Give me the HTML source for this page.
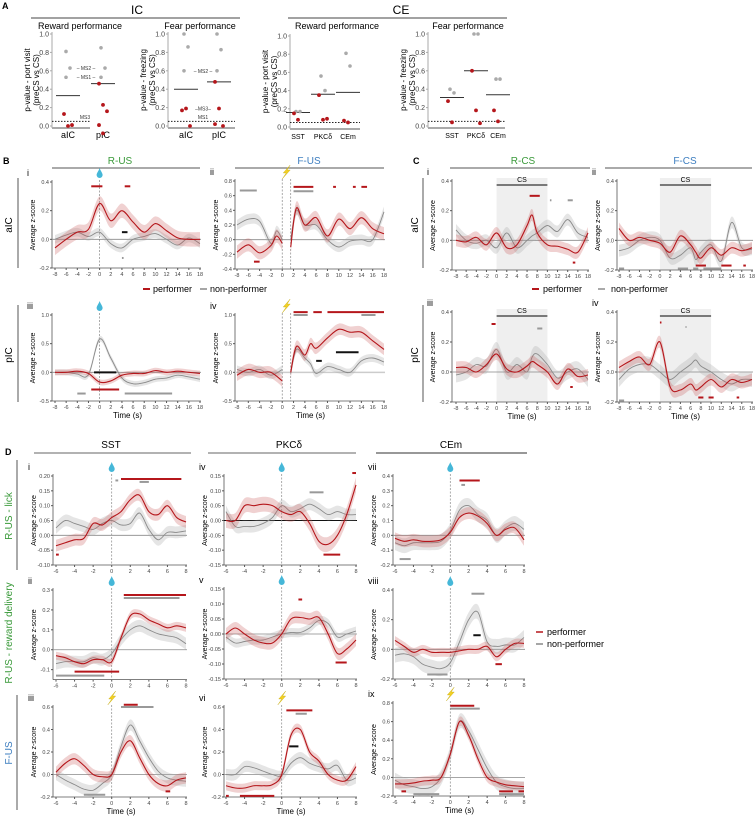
<!DOCTYPE html>
<html><head><meta charset="utf-8"><style>
body{margin:0;background:#fff;}
svg{display:block;font-family:"Liberation Sans",sans-serif;}
</style></head><body>
<svg id="fig" width="756" height="819" viewBox="0 0 756 819" xmlns="http://www.w3.org/2000/svg">
<g id="static" font-family="Liberation Sans, sans-serif">
<text x="2" y="9" font-size="9" font-weight="bold">A</text>
<text x="137" y="14" font-size="12" text-anchor="middle">IC</text>
<line x1="31" y1="18" x2="240" y2="18" stroke="#444"/>
<text x="401" y="14" font-size="12" text-anchor="middle">CE</text>
<line x1="288" y1="18" x2="507" y2="18" stroke="#444"/>
<text x="80" y="29" font-size="9" text-anchor="middle">Reward  performance</text>
<text x="200" y="29" font-size="9" text-anchor="middle">Fear performance</text>
<text x="337" y="29" font-size="9" text-anchor="middle">Reward performance</text>
<text x="468" y="29" font-size="9" text-anchor="middle">Fear performance</text>
<text x="3" y="164" font-size="9" font-weight="bold">B</text>
<text x="120" y="164" font-size="10" fill="#3a9a3a" text-anchor="middle">R-US</text>
<line x1="52" y1="168" x2="200" y2="168" stroke="#555"/>
<text x="309" y="164" font-size="10" fill="#3f7fc0" text-anchor="middle">F-US</text>
<line x1="235" y1="168" x2="384" y2="168" stroke="#555"/>
<text x="413" y="164" font-size="9" font-weight="bold">C</text>
<text x="523" y="164" font-size="10" fill="#3a9a3a" text-anchor="middle">R-CS</text>
<line x1="450" y1="168" x2="590" y2="168" stroke="#555"/>
<text x="685" y="164" font-size="10" fill="#3f7fc0" text-anchor="middle">F-CS</text>
<line x1="605" y1="168" x2="752" y2="168" stroke="#555"/>
<text x="12" y="225" font-size="10" text-anchor="middle" transform="rotate(-90 12 225)">aIC</text>
<text x="12" y="355" font-size="10" text-anchor="middle" transform="rotate(-90 12 355)">pIC</text>
<line x1="18" y1="178" x2="18" y2="268" stroke="#555"/>
<line x1="18" y1="305" x2="18" y2="402" stroke="#555"/>
<text x="418" y="225" font-size="10" text-anchor="middle" transform="rotate(-90 418 225)">aIC</text>
<text x="418" y="355" font-size="10" text-anchor="middle" transform="rotate(-90 418 355)">pIC</text>
<line x1="423" y1="178" x2="423" y2="268" stroke="#555"/>
<line x1="423" y1="305" x2="423" y2="402" stroke="#555"/>
<line x1="143" y1="289" x2="150" y2="289" stroke="#b5161b" stroke-width="2"/>
<text x="153" y="292" font-size="9">performer</text>
<line x1="200" y1="289" x2="207" y2="289" stroke="#888" stroke-width="1.5"/>
<text x="210" y="292" font-size="9">non-performer</text>
<line x1="532" y1="289" x2="539" y2="289" stroke="#b5161b" stroke-width="2"/>
<text x="543" y="292" font-size="9">performer</text>
<line x1="598" y1="289" x2="605" y2="289" stroke="#aaa" stroke-width="2"/>
<text x="611" y="292" font-size="9">non-performer</text>
<text x="5" y="455" font-size="9" font-weight="bold">D</text>
<text x="111" y="448" font-size="10" text-anchor="middle">SST</text>
<line x1="34" y1="453" x2="191" y2="453" stroke="#999" stroke-width="1.5"/>
<text x="289" y="448" font-size="10" text-anchor="middle">PKCδ</text>
<line x1="208" y1="453" x2="356" y2="453" stroke="#999" stroke-width="1.5"/>
<text x="451" y="448" font-size="10" text-anchor="middle">CEm</text>
<line x1="376" y1="453" x2="527" y2="453" stroke="#777" stroke-width="1.5"/>
<text x="12" y="516" font-size="10" fill="#3a9a3a" text-anchor="middle" transform="rotate(-90 12 516)">R-US - lick</text>
<text x="12" y="633" font-size="10" fill="#3a9a3a" text-anchor="middle" transform="rotate(-90 12 633)">R-US - reward delivery</text>
<text x="12" y="753" font-size="10" fill="#3f7fc0" text-anchor="middle" transform="rotate(-90 12 753)">F-US</text>
<line x1="17" y1="460" x2="17" y2="570" stroke="#555"/>
<line x1="17" y1="695" x2="17" y2="810" stroke="#555"/>
<line x1="536" y1="632" x2="543" y2="632" stroke="#b5161b" stroke-width="1.5"/>
<text x="547" y="635" font-size="9">performer</text>
<line x1="536" y1="644" x2="543" y2="644" stroke="#888" stroke-width="1.5"/>
<text x="547" y="647" font-size="9">non-performer</text>
</g>
<g id="plots"></g>
</svg>
<script>
// ---------- Panel A data ----------
const a1Cats=["aIC","pIC"];
const a1Gray=[[0.81,0.63,0.53],[0.85,0.63,0.53]];
const a1Red=[[0.13,0.0,0.01],[0.46,0.23,0.16,0.01,-0.08]];
const a1Mean=[0.33,0.46];
const a2Cats=["aIC","pIC"];
const a2Gray=[[1.0,0.86,0.6],[1.0,0.83,0.6]];
const a2Red=[[0.17,0.19,0.0],[0.48,0.19,0.0,0.02]];
const a2Mean=[0.40,0.48];
const a3Cats=["SST","PKCδ","CEm"];
const a3Gray=[[0.17,0.17],[0.56,0.40],[0.81,0.67]];
const a3Red=[[0.15,0.08],[0.35,0.08,0.09],[0.07,0.05]];
const a3Mean=[0.16,0.36,0.38];
const a4Cats=["SST","PKCδ","CEm"];
const a4Gray=[[0.40,0.36],[1.0,1.0],[0.51,0.51]];
const a4Red=[[0.27,0.04],[0.60,0.17,0.03],[0.17,0.05]];
const a4Mean=[0.31,0.60,0.34];
const aTicks=[0,0.2,0.4,0.6,0.8,1.0];

// ---------- Panel B/C data ----------
const bT=[-8,-6,-4,-2,0,2,4,6,8,10,12,14,16,18];
const biRed=[-0.06,0.0,0.05,0.07,0.25,0.13,0.2,0.12,0.05,0.11,0.06,0.01,0.0,0.0];
const biGray=[0.0,0.03,0.05,0.02,0.05,-0.03,-0.06,0.0,0.02,0.04,0.0,-0.04,0.01,-0.03];
const biiT=[-8,-6,-4,-2,-1,0,1,1.5,2.5,4,6,8,10,12,14,16,18];
const biiRed=[-0.17,-0.07,-0.18,-0.08,0.05,-0.05,null,-0.1,0.43,0.2,0.3,0.05,0.28,0.15,0.3,0.15,0.08];
const biiGray=[0.2,0.28,0.25,-0.05,0.12,0.0,null,0.0,0.4,0.2,0.2,0.0,-0.1,-0.02,0.0,0.0,0.38];
const biiiRed=[0.0,0.0,0.02,-0.02,-0.17,-0.15,-0.05,-0.02,-0.02,0.03,0.0,0.02,0.0,-0.02];
const biiiGray=[0.0,0.0,-0.03,-0.04,0.58,0.25,-0.1,-0.2,-0.18,-0.12,-0.1,-0.05,-0.08,-0.12];
const bivT=[-8,-6,-4,-2,0,1,1.5,2.5,4,5,6,8,10,12,14,16,18];
const bivRed=[-0.05,0.05,0.0,0.0,-0.15,null,0.0,0.45,0.3,0.5,0.42,0.6,0.75,0.7,0.7,0.55,0.4];
const bivGray=[0.05,0.0,0.05,-0.05,0.05,null,0.0,0.4,0.25,0.15,-0.02,0.1,0.05,0.0,0.2,0.25,0.18];
const cT=[-8,-6,-4,-2,0,2,4,6,7,8,10,12,14,16,18];
const ciRed=[0.0,-0.01,0.02,-0.03,0.05,-0.05,-0.03,0.1,0.17,0.05,-0.03,-0.04,-0.06,-0.08,0.05];
const ciGray=[0.07,0.0,-0.02,0.0,-0.05,0.05,-0.05,0.0,0.03,0.05,0.1,0.06,0.14,0.05,0.02];
const ciiRed=[0.08,0.0,0.02,0.0,-0.02,-0.08,0.03,-0.03,-0.08,-0.12,-0.05,-0.1,-0.05,-0.07,-0.05];
const ciiGray=[-0.07,-0.05,0.0,0.02,0.0,-0.12,-0.1,-0.05,-0.13,-0.08,-0.03,-0.14,0.12,-0.05,-0.06];
const ciiiRed=[0.03,0.03,0.0,0.05,0.12,0.02,0.0,0.04,0.07,0.05,0.0,-0.08,0.02,-0.03,-0.02];
const ciiiGray=[-0.02,0.0,0.05,0.04,0.15,0.0,0.05,0.0,0.1,0.12,0.05,-0.04,0.0,0.02,-0.05];
const civRed=[0.03,0.07,0.1,0.05,0.2,-0.1,-0.12,-0.08,-0.12,-0.1,-0.05,-0.1,-0.05,-0.07,-0.05];
const civGray=[-0.05,0.02,0.05,0.05,0.0,-0.05,0.0,0.05,0.08,0.04,0.0,-0.05,-0.08,-0.05,-0.05];

// ---------- Panel D data ----------
const dT=[-6,-5,-4,-3,-2,-1,0,1,2,3,4,5,6,7,8];
const diRed=[-0.035,-0.025,-0.015,-0.01,0.04,0.035,0.06,0.08,0.12,0.135,0.08,0.07,0.1,0.06,0.045];
const diGray=[0.025,0.05,0.04,0.03,0.02,0.04,0.05,0.035,0.04,0.075,0.02,-0.015,0.01,0.01,0.015];
const divRed=[0.0,0.0,0.05,0.05,0.055,0.05,0.03,0.02,0.03,-0.01,-0.07,-0.08,-0.05,0.02,0.12];
const divGray=[0.03,-0.02,-0.02,-0.02,-0.01,0.01,0.05,0.03,0.04,0.055,0.04,0.02,0.03,0.02,0.02];
const dviiRed=[-0.02,-0.04,-0.03,-0.04,-0.04,-0.03,0.02,0.12,0.15,0.13,0.08,0.0,0.04,0.05,-0.03];
const dviiGray=[-0.05,-0.07,-0.05,-0.05,-0.05,-0.04,0.03,0.17,0.2,0.14,0.1,0.0,0.05,0.08,0.04];
const diiRed=[-0.03,-0.04,-0.06,-0.07,-0.05,-0.05,-0.06,0.06,0.17,0.18,0.15,0.13,0.11,0.12,0.11];
const diiGray=[-0.07,-0.06,-0.06,-0.06,-0.04,-0.05,-0.02,0.05,0.1,0.12,0.1,0.08,0.07,0.06,0.03];
const dvRed=[0.0,0.02,0.0,-0.02,-0.03,-0.03,0.0,0.05,0.055,0.05,0.055,0.0,-0.065,-0.05,-0.02];
const dvGray=[-0.01,-0.03,-0.025,-0.02,-0.02,-0.01,0.0,0.005,0.005,0.02,0.045,0.035,-0.01,0.0,0.01];
const dviiiRed=[0.06,0.02,-0.02,0.0,-0.02,-0.02,-0.02,-0.01,0.0,0.0,0.02,-0.05,0.0,0.04,0.04];
const dviiiGray=[-0.04,-0.03,-0.05,-0.1,-0.12,-0.13,-0.09,0.05,0.2,0.25,0.05,0.02,0.03,0.03,0.08];
const diiiRed=[0.02,0.1,0.14,0.08,0.0,-0.02,0.0,0.2,0.3,0.15,0.0,-0.08,-0.1,-0.05,-0.03];
const diiiGray=[0.0,-0.05,-0.09,-0.13,-0.14,-0.08,0.0,0.25,0.44,0.3,0.15,0.03,-0.03,-0.05,-0.06];
const dviRed=[-0.1,-0.12,-0.12,-0.1,-0.1,-0.09,0.0,0.35,0.4,0.2,0.12,0.0,-0.05,-0.05,0.07];
const dviGray=[0.0,0.0,0.07,0.06,0.03,0.0,-0.01,0.1,0.15,0.1,0.07,0.05,0.08,-0.05,-0.03];
const dixRed=[-0.07,-0.07,-0.06,-0.04,-0.03,0.0,0.25,0.6,0.45,0.2,0.0,-0.05,-0.08,-0.09,-0.1];
const dixGray=[-0.03,-0.08,-0.1,-0.12,-0.1,0.0,0.25,0.6,0.5,0.3,0.1,-0.05,-0.1,-0.12,-0.12];

const bXTicks=[-8,-6,-4,-2,0,2,4,6,8,10,12,14,16,18];
const dXTicks=[-6,-4,-2,0,2,4,6,8];

const NS="http://www.w3.org/2000/svg";
const root=document.getElementById('plots');
function mk(tag,attrs,parent){const e=document.createElementNS(NS,tag);for(const k in attrs)e.setAttribute(k,attrs[k]);(parent||root).appendChild(e);return e;}
const RED="#b5161b",GRAY="#8a8a8a";

// ---------- Panel A ----------
function drawA(cfg,cats,gray,red,mean){
  const g=mk('g',{});
  
  
  const y=v=>cfg.y0+(1-v)*(cfg.y1-cfg.y0);
  const x=i=>cfg.cx[i];
  mk('line',{x1:cfg.ax,y1:cfg.y0-2,x2:cfg.ax,y2:cfg.y1+2,stroke:'#aaa'},g);
  mk('line',{x1:cfg.ax,y1:cfg.y1+2,x2:cfg.xe,y2:cfg.y1+2,stroke:'#aaa','stroke-width':2},g);
  mk('line',{x1:cfg.ax,y1:y(0.05),x2:cfg.xe,y2:y(0.05),stroke:'#222','stroke-dasharray':'1.5,1.5'},g);
  aTicks.forEach(t=>{mk('line',{x1:cfg.ax-2,y1:y(t),x2:cfg.ax,y2:y(t),stroke:'#aaa'},g);
    const tx=mk('text',{x:cfg.ax-3,y:y(t)+2.5,'font-size':7,'text-anchor':'end',fill:'#444'},g);tx.textContent=t.toFixed(1);});
  const yl=mk('text',{x:0,y:0,'font-size':8,'text-anchor':'middle',transform:`translate(${cfg.ax-22},${(cfg.y0+cfg.y1)/2}) rotate(-90)`},g);
  
  
  const ts1=mk('tspan',{x:0,dy:0},yl);ts1.textContent=cfg.ylab;
  const ts2=mk('tspan',{x:0,dy:9},yl);ts2.textContent='(preCS vs CS)';
  cats.forEach((c,i)=>{
    const lt=mk('text',{x:x(i),y:cfg.y1+12,'font-size':cfg.cfs,'text-anchor':'middle'},g);lt.textContent=c;
    
    
    const ml=mk('line',{x1:x(i)-12,y1:y(mean[i]),x2:x(i)+12,y2:y(mean[i]),stroke:'#333'},g);
    
    
    gray[i].forEach((v,j)=>{const d=mk('circle',{cx:x(i)+(j%2?2:-2),cy:y(v),r:1.8,fill:'#aaa'},g);
      
      });
    red[i].forEach((v,j)=>{const d=mk('circle',{cx:x(i)+((j%3)-1)*4,cy:y(v),r:1.9,fill:RED},g);
      
      });
  });
  (cfg.notes||[]).forEach(n=>{const t=mk('text',{x:n[0],y:y(n[1])+2,'font-size':5,'text-anchor':'middle',fill:'#333'},g);t.textContent=n[2];});
}
drawA({name:'a-ic-reward',ax:52,xe:90,y0:34,y1:126,cx:[68,103],cfs:9,ylab:'p-value - port visit',notes:[[86,0.63,'– MS2 –'],[86,0.53,'– MS1 –'],[85,0.1,'MS3']]},a1Cats,a1Gray,a1Red,a1Mean);
drawA({name:'a-ic-fear',ax:168,xe:235,y0:34,y1:126,cx:[186,219],cfs:9,ylab:'p-value - freezing',notes:[[203,0.6,'– MS2 –'],[203,0.19,'–MS3–'],[203,0.1,'MS1']]},a2Cats,a2Gray,a2Red,a2Mean);
drawA({name:'a-ce-reward',ax:290,xe:360,y0:36,y1:127,cx:[298,323,348],cfs:7,ylab:'p-value - port visit'},a3Cats,a3Gray,a3Red,a3Mean);
drawA({name:'a-ce-fear',ax:428,xe:505,y0:34,y1:126,cx:[452,476,498],cfs:7,ylab:'p-value - freezing'},a4Cats,a4Gray,a4Red,a4Mean);

// ---------- time-series panels ----------
function smoothPath(pts){
  if(pts.length<2)return '';
  let d=`M${pts[0][0]},${pts[0][1]}`;
  for(let i=0;i<pts.length-1;i++){
    const p0=pts[i-1]||pts[i],p1=pts[i],p2=pts[i+1],p3=pts[i+2]||p2;
    const c1=[p1[0]+(p2[0]-p0[0])/6,p1[1]+(p2[1]-p0[1])/6];
    const c2=[p2[0]-(p3[0]-p1[0])/6,p2[1]-(p3[1]-p1[1])/6];
    d+=` C${c1[0]},${c1[1]} ${c2[0]},${c2[1]} ${p2[0]},${p2[1]}`;
  }
  return d;
}
function segments(t,v){const segs=[];let cur=[];t.forEach((tt,i)=>{if(v[i]===null){if(cur.length)segs.push(cur);cur=[];}else cur.push([tt,v[i]]);});if(cur.length)segs.push(cur);return segs;}
function drawTS(c){
  const g=mk('g',{});
  
  
  const X=v=>c.px0+(v-c.xmin)/(c.xmax-c.xmin)*(c.px1-c.px0);
  const Y=v=>c.py0+(c.ymax-v)/(c.ymax-c.ymin)*(c.py1-c.py0);
  const top=c.py0, bot=Y(c.ymin);
  if(c.cs){mk('rect',{x:X(0),y:top-3,width:X(10)-X(0),height:bot-top+3,fill:'#efefef'},g);
    mk('line',{x1:X(0),y1:top+4,x2:X(10),y2:top+4,stroke:'#333','stroke-width':1.2},g);
    const ct=mk('text',{x:X(5),y:top+1,'font-size':7,'text-anchor':'middle'},g);ct.textContent='CS';
    
    }
  // axes
  mk('line',{x1:c.ax,y1:top-2,x2:c.ax,y2:bot,stroke:'#555','stroke-width':0.8},g);
  mk('line',{x1:c.ax,y1:bot,x2:c.px1+1,y2:bot,stroke:'#555','stroke-width':0.8},g);
  c.yt.forEach(v=>{mk('line',{x1:c.ax-2,y1:Y(v),x2:c.ax,y2:Y(v),stroke:'#555'},g);
    const t=mk('text',{x:c.ax-3,y:Y(v)+2,'font-size':5.5,'text-anchor':'end',fill:'#444'},g);t.textContent=v.toFixed(c.dec);});
  c.xt.forEach(v=>{mk('line',{x1:X(v),y1:bot,x2:X(v),y2:bot+2,stroke:'#555'},g);
    const t=mk('text',{x:X(v),y:bot+8,'font-size':5.5,'text-anchor':'middle',fill:'#444'},g);t.textContent=v;});
  const yl=mk('text',{'font-size':7,'text-anchor':'middle',transform:`translate(${c.ax-17},${(top+bot)/2}) rotate(-90)`},g);yl.textContent='Average z-score';
  
  
  if(c.xlab){const xl=mk('text',{x:(c.px0+c.px1)/2,y:bot+17,'font-size':8,'text-anchor':'middle'},g);xl.textContent='Time (s)';
    
    }
  const rn=mk('text',{x:c.ax-25,y:top-6,'font-size':9},g);rn.textContent=c.num;
  
  
  // zero line
  mk('line',{x1:c.ax,y1:Y(0),x2:c.px1+1,y2:Y(0),stroke:c.zc||'#888','stroke-width':c.zw||0.8},g);
  // dashed event lines
  (c.dash||[0]).forEach(v=>mk('line',{x1:X(v),y1:top-2,x2:X(v),y2:bot,stroke:'#888','stroke-width':0.7,'stroke-dasharray':'2,1.5'},g));
  // series
  [[c.gray,GRAY,'rgba(170,170,170,0.3)',c.bg||c.bw,'nonperformer'],[c.red,RED,'rgba(200,90,90,0.28)',c.bw,'performer']].forEach(s=>{
    segments(c.t,s[0]).forEach(seg=>{
      const up=seg.map(p=>[X(p[0]),Y(p[1]+s[3])]);
      const lo=seg.map(p=>[X(p[0]),Y(p[1]-s[3])]).reverse();
      const band=mk('path',{d:smoothPath(up)+' L'+smoothPath(lo).slice(1)+' Z',fill:s[2],stroke:'none'},g);
      
      
      const ln=mk('path',{d:smoothPath(seg.map(p=>[X(p[0]),Y(p[1])])),fill:'none',stroke:s[1],'stroke-width':s[4]==='performer'?1.1:0.9},g);
      
      
    });
  });
  // significance bars
  (c.bars||[]).forEach(b=>{const col=b[0]==='r'?RED:b[0]==='g'?'#999':'#111';
    const br=mk('line',{x1:X(b[2]),y1:Y(b[1]),x2:X(b[3]),y2:Y(b[1]),stroke:col,'stroke-width':2},g);
    
    });
  // icons
  if(c.icon==='drop'){const x=X(0),y=top-9;
    const d=mk('path',{d:`M${x},${y-5} C${x+1},${y-2} ${x+3},${y} ${x+3},${y+2} A3,3 0 0 1 ${x-3},${y+2} C${x-3},${y} ${x-1},${y-2} ${x},${y-5} Z`,fill:'#45b7d8'},g);
    
    }
  if(c.icon==='bolt'){const x=X(c.boltX||0),y=top-9;
    const d=mk('polygon',{points:`${x+4},${y-7} ${x-3},${y+1} ${x},${y+1} ${x-4},${y+7} ${x+4},${y-2} ${x+1},${y-2}`,fill:'#f2d024',stroke:'#b9a000','stroke-width':0.3},g);
    
    }
}
const B=(o)=>Object.assign({xmin:-8,xmax:18,xt:bXTicks,dec:1},o);
drawTS(B({name:'panel-b-i',num:'i',ax:52,px0:55,px1:200,py0:182,py1:268,ymax:0.4,ymin:-0.2,yt:[-0.2,0,0.2,0.4],t:bT,red:biRed,gray:biGray,bw:0.05,bg:0.03,icon:'drop',
  bars:[['r',0.37,-1.5,0.5],['r',0.37,4.5,5.5],['k',0.05,4,5],['g',-0.13,4,4.3]]}));
drawTS(B({name:'panel-b-ii',num:'ii',ax:235,px0:237,px1:384,py0:181,py1:269,ymax:0.8,ymin:-0.4,yt:[-0.4,-0.2,0,0.2,0.4,0.6,0.8],t:biiT,red:biiRed,gray:biiGray,bw:0.09,bg:0.07,icon:'bolt',boltX:0.7,dash:[0,1.5],
  bars:[['g',0.67,-7.5,-4.5],['r',0.72,2,5.5],['g',0.66,2,5.5],['r',0.72,9,9.5],['r',0.72,12.5,13],['r',0.72,14,15],['r',-0.3,-5,-4]]}));
drawTS(B({name:'panel-b-iii',num:'iii',ax:52,px0:55,px1:200,py0:315,py1:401,ymax:1.0,ymin:-0.5,yt:[-0.5,0,0.5,1.0],t:bT,red:biiiRed,gray:biiiGray,bw:0.05,bg:0.05,icon:'drop',xlab:true,
  bars:[['k',0.0,-1,3],['r',-0.3,-1.5,3.5],['g',-0.37,-4,-2.5],['g',-0.37,4.5,13]]}));
drawTS(B({name:'panel-b-iv',num:'iv',ax:235,px0:237,px1:384,py0:315,py1:401,ymax:1.0,ymin:-0.5,yt:[-0.5,0,0.5,1.0],t:bivT,red:bivRed,gray:bivGray,bw:0.1,bg:0.07,icon:'bolt',boltX:0.7,dash:[0,1.5],xlab:true,zc:'#ccc',zw:1.5,
  bars:[['r',1.05,2,4.5],['r',1.05,5.5,7],['r',1.05,8,18],['g',1.0,2,4.5],['g',1.0,14,16.5],['k',0.2,6,7],['k',0.35,9.5,13.5]]}));
drawTS(B({name:'panel-c-i',num:'i',ax:452,px0:456,px1:588,py0:181,py1:270,ymax:0.4,ymin:-0.2,yt:[-0.2,0,0.2,0.4],t:cT,red:ciRed,gray:ciGray,bw:0.04,bg:0.04,cs:true,dash:[],
  bars:[['r',0.3,6.5,8.5],['g',0.27,10.5,10.8],['g',0.27,14,15],['r',-0.15,15,15.5]]}));
drawTS(B({name:'panel-c-ii',num:'ii',ax:617,px0:619,px1:752,py0:181,py1:270,ymax:0.4,ymin:-0.2,yt:[-0.2,0,0.2,0.4],t:cT,red:ciiRed,gray:ciiGray,bw:0.04,bg:0.04,cs:true,dash:[],
  bars:[['g',-0.19,-8,-7],['g',-0.19,3.5,5.5],['g',-0.19,6.5,7.5],['g',-0.19,8.5,12],['r',-0.17,7,9],['r',-0.17,12,14],['r',-0.17,16.3,16.8]]}));
drawTS(B({name:'panel-c-iii',num:'iii',ax:452,px0:456,px1:588,py0:312,py1:402,ymax:0.4,ymin:-0.2,yt:[-0.2,0,0.2,0.4],t:cT,red:ciiiRed,gray:ciiiGray,bw:0.04,bg:0.05,cs:true,dash:[],xlab:true,
  bars:[['r',0.32,-1,-0.2],['g',0.29,8,9],['r',-0.1,14.5,15]]}));
drawTS(B({name:'panel-c-iv',num:'iv',ax:617,px0:619,px1:752,py0:312,py1:402,ymax:0.4,ymin:-0.2,yt:[-0.2,0,0.2,0.4],t:cT,red:civRed,gray:civGray,bw:0.04,bg:0.05,cs:true,dash:[],xlab:true,
  bars:[['r',0.33,0,0.3],['g',0.3,5,5.2],['r',-0.17,7.5,8.5],['r',-0.17,9.5,10.5],['r',-0.17,15,15.5],['g',-0.19,-8,-7]]}));
const D=(o)=>Object.assign({xmin:-6,xmax:8,xt:dXTicks,t:dT},o);
drawTS(D({name:'panel-d-i',num:'i',ax:53,px0:56,px1:186,py0:476,py1:565,ymax:0.2,ymin:-0.1,yt:[-0.1,-0.05,0,0.05,0.1,0.15,0.2],dec:2,red:diRed,gray:diGray,bw:0.02,bg:0.02,icon:'drop',
  bars:[['r',0.19,1,7.5],['g',0.18,3,4],['g',0.185,0.4,0.7],['r',-0.065,-6,-5.7]]}));
drawTS(D({name:'panel-d-iv',num:'iv',ax:224,px0:226,px1:356,py0:476,py1:565,ymax:0.15,ymin:-0.15,yt:[-0.15,-0.1,-0.05,0,0.05,0.1,0.15],dec:2,red:divRed,gray:divGray,bw:0.025,bg:0.02,icon:'drop',zc:'#111',zw:1,
  bars:[['g',0.095,3,4.5],['r',-0.115,4.5,6.3],['r',0.16,7.6,8]]}));
drawTS(D({name:'panel-d-vii',num:'vii',ax:393,px0:395,px1:524,py0:476,py1:565,ymax:0.4,ymin:-0.2,yt:[-0.2,-0.1,0,0.1,0.2,0.3,0.4],dec:1,red:dviiRed,gray:dviiGray,bw:0.04,bg:0.05,icon:'drop',
  bars:[['r',0.37,1,3.2],['g',0.34,1.2,1.6],['g',-0.16,-5.5,-4.3]]}));
drawTS(D({name:'panel-d-ii',num:'ii',ax:53,px0:56,px1:186,py0:590,py1:679.6,ymax:0.3,ymin:-0.15,yt:[-0.1,0,0.1,0.2,0.3],dec:1,red:diiRed,gray:diiGray,bw:0.02,bg:0.03,icon:'drop',
  bars:[['r',0.275,1.3,8],['g',0.26,1.3,7.3],['r',-0.11,-4,0.8],['g',-0.13,-6,-0.8]]}));
drawTS(D({name:'panel-d-v',num:'v',ax:224,px0:226,px1:356,py0:589,py1:679,ymax:0.15,ymin:-0.15,yt:[-0.15,-0.1,-0.05,0,0.05,0.1,0.15],dec:2,red:dvRed,gray:dvGray,bw:0.02,bg:0.015,icon:'drop',
  bars:[['r',0.115,1.8,2.2],['r',-0.095,5.8,7]]}));
drawTS(D({name:'panel-d-viii',num:'viii',ax:393,px0:395,px1:524,py0:590,py1:679,ymax:0.4,ymin:-0.2,yt:[-0.2,0,0.2,0.4],dec:1,red:dviiiRed,gray:dviiiGray,bw:0.03,bg:0.05,icon:'drop',
  bars:[['g',0.375,2.3,3.7],['k',0.095,2.5,3.3],['g',-0.17,-2.5,-0.3],['r',-0.1,4.9,5.6]]}));
drawTS(D({name:'panel-d-iii',num:'iii',ax:53,px0:56,px1:186,py0:707,py1:797,ymax:0.6,ymin:-0.2,yt:[-0.2,0,0.2,0.4,0.6],dec:1,red:diiiRed,gray:diiiGray,bw:0.05,bg:0.05,icon:'bolt',xlab:true,
  bars:[['r',0.62,1.3,2.8],['g',0.6,1,4.5],['g',-0.18,-3,-0.7],['r',-0.15,5.8,6.3]]}));
drawTS(D({name:'panel-d-vi',num:'vi',ax:224,px0:226,px1:356,py0:707,py1:797,ymax:0.6,ymin:-0.2,yt:[-0.2,0,0.2,0.4,0.6],dec:1,red:dviRed,gray:dviGray,bw:0.04,bg:0.05,icon:'bolt',xlab:true,
  bars:[['r',0.57,0.5,3.3],['g',0.54,1.5,2.7],['k',0.25,0.8,1.8],['r',-0.19,-4.5,-0.8],['r',-0.19,-6,-5.7]]}));
drawTS(D({name:'panel-d-ix',num:'ix',ax:393,px0:395,px1:524,py0:703,py1:796,ymax:0.8,ymin:-0.2,yt:[-0.2,0,0.2,0.4,0.6,0.8],dec:1,red:dixRed,gray:dixGray,bw:0.05,bg:0.08,icon:'bolt',xlab:true,
  bars:[['r',0.77,0,2.6],['g',0.74,0,3.2],['r',-0.15,-5.3,-4.8],['g',-0.18,-4,-1.2],['r',-0.15,5.3,6.8],['r',-0.15,7.4,8],['g',-0.18,5.3,8]]}));
</script>
</body></html>
